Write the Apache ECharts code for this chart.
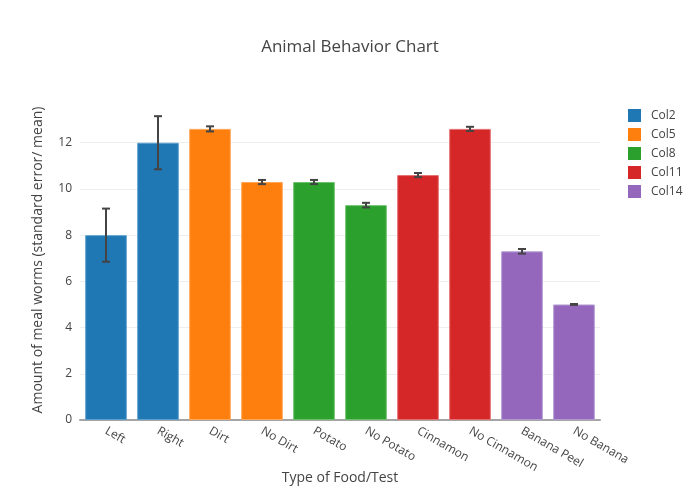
<!DOCTYPE html>
<html>
<head>
<meta charset="utf-8">
<script src="https://cdn.jsdelivr.net/npm/echarts@6/dist/echarts.min.js"></script>
<style>html,body{margin:0;padding:0;background:#fff}#c{width:700px;height:500px}</style>
</head>
<body>
<div id="c"></div>
<script>
var categories = ['Left','Right','Dirt','No Dirt','Potato','No Potato','Cinnamon','No Cinnamon','Banana Peel','No Banana'];
var seriesNames = ['Col2','Col5','Col8','Col11','Col14'];
var seriesColors = ['#1f77b4','#ff7f0e','#2ca02c','#d62728','#9467bd'];
var borderColors = ['#5a9fce','#ffa557','#6cc06c','#e46f70','#b39bd2'];
var col2 = [8.0, 12.0];
var col5 = [12.6, 10.3];
var col8 = [10.3, 9.3];
var col11 = [10.6, 12.6];
var col14 = [7.3, 5.0];
var errors = [1.15, 1.15, 0.11, 0.09, 0.09, 0.1, 0.09, 0.09, 0.1, 0.02];
var yTicks = [0, 2, 4, 6, 8, 10, 12];

var groups = [col2, col5, col8, col11, col14];
var series = [];
var allValues = [];
groups.forEach(function (vals, gi) {
  var data = categories.map(function () { return null; });
  vals.forEach(function (v, k) { data[gi * 2 + k] = v; allValues[gi * 2 + k] = v; });
  series.push({
    name: seriesNames[gi],
    type: 'bar',
    stack: 'all',
    barWidth: '80%',
    data: data,
    itemStyle: { color: seriesColors[gi], borderColor: borderColors[gi], borderWidth: 1 },
    emphasis: { disabled: true }
  });
});
series.push({
  type: 'custom',
  name: 'err',
  silent: true,
  z: 10,
  data: categories.map(function (c, i) { return [i, allValues[i] - errors[i], allValues[i] + errors[i]]; }),
  renderItem: function (params, api) {
    var x = api.value(0);
    var lo = api.coord([x, api.value(1)]);
    var hi = api.coord([x, api.value(2)]);
    var hw = 4;
    var st = { stroke: '#444', lineWidth: 2 };
    return {
      type: 'group',
      children: [
        { type: 'line', shape: { x1: lo[0], y1: lo[1], x2: hi[0], y2: hi[1] }, style: st },
        { type: 'line', shape: { x1: lo[0] - hw, y1: lo[1], x2: lo[0] + hw, y2: lo[1] }, style: st },
        { type: 'line', shape: { x1: hi[0] - hw, y1: hi[1], x2: hi[0] + hw, y2: hi[1] }, style: st }
      ]
    };
  },
  encode: { x: 0, y: [1, 2] }
});

var chart = echarts.init(document.getElementById('c'));
chart.setOption({
  animation: false,
  backgroundColor: '#fff',
  textStyle: { fontFamily: '"Open Sans", sans-serif', color: '#444' },
  title: {
    text: 'Animal Behavior Chart',
    left: 'center',
    top: 34,
    textStyle: { fontFamily: '"Open Sans", sans-serif', fontSize: 17, fontWeight: 'normal', color: '#444' }
  },
  legend: {
    data: seriesNames,
    orient: 'vertical',
    left: 623,
    top: 104,
    itemWidth: 13,
    itemHeight: 13,
    itemGap: 6,
    icon: 'rect',
    itemStyle: { borderWidth: 0 },
    textStyle: { fontFamily: '"Open Sans", sans-serif', fontSize: 12, color: '#444', padding: [0, 0, 0, 5] }
  },
  grid: { left: 80, right: 100, top: 100, bottom: 80, containLabel: false },
  xAxis: {
    type: 'category',
    data: categories,
    name: 'Type of Food/Test',
    nameLocation: 'middle',
    nameGap: 51,
    nameMoveOverlap: false,
    nameTextStyle: { fontFamily: '"Open Sans", sans-serif', fontSize: 14, color: '#444' },
    axisLine: { lineStyle: { color: '#a5a5a5', width: 2 } },
    axisTick: { show: false },
    axisLabel: { rotate: -30, interval: 0, fontSize: 12, color: '#444', margin: 10 }
  },
  yAxis: {
    type: 'value',
    min: 0,
    max: 13.85,
    interval: 2,
    name: 'Amount of meal worms (standard error/ mean)',
    nameLocation: 'middle',
    nameGap: 35,
    nameMoveOverlap: false,
    nameTextStyle: { fontFamily: '"Open Sans", sans-serif', fontSize: 14, color: '#444' },
    axisLine: { show: false },
    axisTick: { show: false },
    axisLabel: {
      fontSize: 12, color: '#444', margin: 8, showMaxLabel: false,
      formatter: function (v) { return yTicks.indexOf(v) >= 0 ? String(v) : ''; }
    },
    splitLine: { show: true, showMaxLine: false, lineStyle: { color: '#eeeeee', width: 1 } }
  },
  series: series
});
</script>
</body>
</html>
